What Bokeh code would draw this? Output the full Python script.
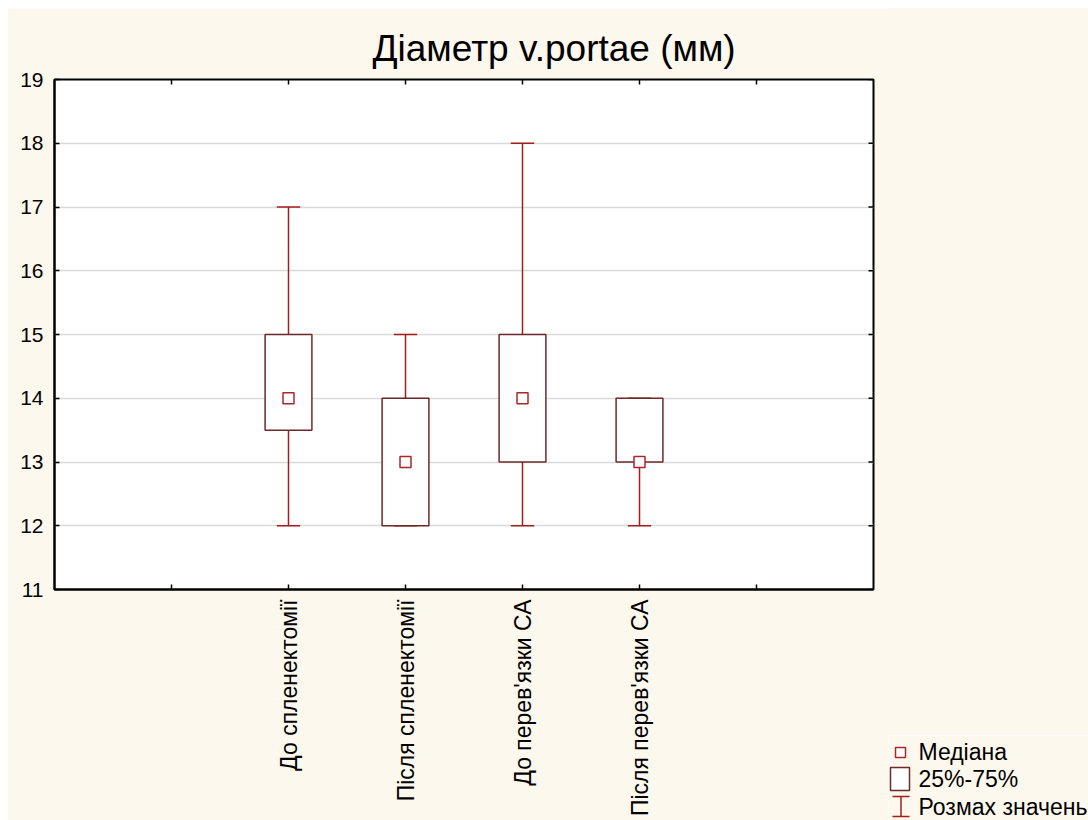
import math
import numpy as np
from bokeh.plotting import figure
from bokeh.models import Range1d, FixedTicker, Spacer
from bokeh.layouts import row, column
from bokeh.embed import file_html
from bokeh.resources import INLINE
from bokeh.core.properties import value

# ---------------- data ----------------
title_text = "Діаметр v.portae (мм)"
categories = ["До спленектомії", "Після спленектомії", "До перев'язки СА", "Після перев'язки СА"]
positions = [2, 3, 4, 5]
mins = [12, 12, 12, 12]
q1 = [13.5, 12, 13, 13]
medians = [14, 13, 14, 13]
q3 = [15, 14, 15, 14]
maxs = [17, 15, 18, 14]
y_ticks = [11, 12, 13, 14, 15, 16, 17, 18, 19]
x_ticks = [1, 2, 3, 4, 5, 6]
legend_labels = ["Медіана", "25%-75%", "Розмах значень"]

# ---------------- style ----------------
BG = "#fdf8ee"
BOX = "#6e2a2a"
WHISK = "#a01e1e"
MED = "#a82828"
FONT = "Liberation Sans"

pos = np.array(positions, dtype=float)
X0, X1, Y0, Y1 = 0, 7, 11, 19

p = figure(width=881, height=812, x_range=Range1d(X0, X1), y_range=Range1d(Y0, Y1),
           output_backend="svg", toolbar_location=None,
           min_border_left=47, min_border_right=15, min_border_top=71, min_border_bottom=231,
           background_fill_color="white", border_fill_color=BG,
           outline_line_color="black", outline_line_width=2)

p.title.text = title_text
p.title.text_font = FONT
p.title.text_font_size = "37px"
p.title.text_font_style = "normal"
p.title.text_color = "black"
p.title.align = "left"
p.title.offset = 318
p.title.standoff = 22

# bottom axis (labelled categories)
xa = p.xaxis[0]
xa.ticker = FixedTicker(ticks=positions)
xa.major_label_overrides = {pp: c for pp, c in zip(positions, categories)}
xa.major_label_orientation = math.pi / 2
xa.major_label_text_font = FONT
xa.major_label_text_font_size = "23px"
xa.major_label_text_color = "black"
xa.major_label_standoff = 10
xa.major_tick_in = 5
xa.major_tick_out = 0
xa.minor_tick_line_color = None
xa.axis_line_width = 2
xa.major_tick_line_width = 1.5

# left axis
ya = p.yaxis[0]
ya.ticker = FixedTicker(ticks=y_ticks)
ya.major_label_text_font = FONT
ya.major_label_text_font_size = "21px"
ya.major_label_text_color = "black"
ya.major_label_standoff = 11
ya.major_tick_in = 5
ya.major_tick_out = 0
ya.minor_tick_line_color = None
ya.axis_line_width = 2
ya.major_tick_line_width = 1.5

p.xgrid.visible = False
p.ygrid.ticker = FixedTicker(ticks=y_ticks[1:-1])
p.ygrid.grid_line_color = "#d9d9d9"
p.ygrid.grid_line_width = 1.5

# mirrored inward ticks (half of each dash is clipped by the frame)
extra_bottom = [t for t in x_ticks if t not in positions]
p.scatter(x=extra_bottom, y=[Y0] * len(extra_bottom), marker="dash", angle=math.pi / 2,
          size=10, line_color="black", line_width=1.5)
p.scatter(x=x_ticks, y=[Y1] * len(x_ticks), marker="dash", angle=math.pi / 2,
          size=10, line_color="black", line_width=1.5)
p.scatter(x=[X1] * len(y_ticks), y=y_ticks, marker="dash",
          size=10, line_color="black", line_width=1.5)

# whiskers
p.segment(x0=pos, y0=q3, x1=pos, y1=maxs, line_color=WHISK, line_width=1.5)
p.segment(x0=pos, y0=mins, x1=pos, y1=q1, line_color=WHISK, line_width=1.5)
p.segment(x0=pos - 0.1, y0=maxs, x1=pos + 0.1, y1=maxs, line_color=WHISK, line_width=1.5)
p.segment(x0=pos - 0.1, y0=mins, x1=pos + 0.1, y1=mins, line_color=WHISK, line_width=1.5)
# boxes
p.quad(left=pos - 0.2, right=pos + 0.2, bottom=q1, top=q3,
       fill_color="white", line_color=BOX, line_width=1.5)
# medians
p.scatter(x=pos, y=medians, marker="square", size=11, fill_color="white",
          line_color=MED, line_width=1.5)

# ---------------- legend panel (page pixel coordinates) ----------------
p3 = figure(width=200, height=85, x_range=Range1d(888, 1088), y_range=Range1d(820, 735),
            output_backend="svg", toolbar_location=None, min_border=0,
            min_border_left=0, min_border_right=0, min_border_top=0, min_border_bottom=0,
            background_fill_color=BG, border_fill_color=BG, outline_line_color=None)
p3.axis.visible = False
p3.grid.visible = False

p3.scatter(x=[900], y=[752], marker="square", size=10, fill_color="white",
           line_color=MED, line_width=1.5)
p3.quad(left=[890], right=[909], top=[767], bottom=[790], fill_color="white",
        line_color=BOX, line_width=1.5)
p3.segment(x0=[900.5, 892, 892], y0=[796, 796, 816], x1=[900.5, 909, 909], y1=[816, 796, 816],
           line_color=WHISK, line_width=1.5)
p3.text(x=[918, 918, 918], y=[751, 778, 806], text=legend_labels,
        text_font=value(FONT), text_font_size="23px", text_color="black",
        text_baseline="middle", text_align="left")

right_col = column(Spacer(width=200, height=727, background=BG), p3, spacing=0)
body = row(p, right_col, spacing=0)
layout = column(Spacer(width=1081, height=8), row(Spacer(width=7, height=812), body, spacing=0),
                spacing=0)
open("out.html", "w").write(file_html(layout, INLINE))
